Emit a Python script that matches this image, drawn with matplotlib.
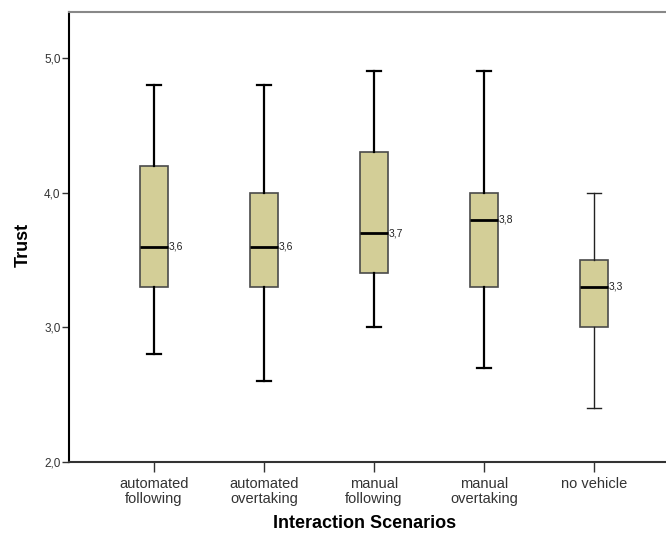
import matplotlib
matplotlib.use("Agg")
import matplotlib.pyplot as plt

categories = ["automated\nfollowing", "automated\novertaking", "manual\nfollowing",
              "manual\novertaking", "no vehicle"]
whisker_low = [2.8, 2.6, 3.0, 2.7, 2.4]
q1 = [3.3, 3.3, 3.4, 3.3, 3.0]
median = [3.6, 3.6, 3.7, 3.8, 3.3]
q3 = [4.2, 4.0, 4.3, 4.0, 3.5]
whisker_high = [4.8, 4.8, 4.9, 4.9, 4.0]
median_labels = ["3,6", "3,6", "3,7", "3,8", "3,3"]
yticks = [2.0, 3.0, 4.0, 5.0]
ytick_labels = ["2,0", "3,0", "4,0", "5,0"]

plt.rcParams['font.family'] = ['Liberation Sans', 'DejaVu Sans']

fig = plt.figure(figsize=(6.66, 5.42), dpi=100)
ax = fig.add_axes([69/666, 1 - 462/542, 1 - 69/666, (462 - 12)/542])

fill = "#d3ce97"
positions = list(range(len(categories)))
for i in positions:
    st = [dict(whislo=whisker_low[i], q1=q1[i], med=median[i], q3=q3[i],
               whishi=whisker_high[i], fliers=[])]
    wl = 1.0 if i == 4 else 1.6
    ax.bxp(st, positions=[i], widths=0.255, patch_artist=True, showfliers=False,
           boxprops=dict(facecolor=fill, edgecolor="#4a4a4a", linewidth=1.2),
           medianprops=dict(color="black", linewidth=2.0),
           whiskerprops=dict(color="black" if i < 4 else "#222222", linewidth=wl),
           capprops=dict(color="black" if i < 4 else "#222222", linewidth=wl),
           capwidths=0.127)
    ax.text(i + 0.135, median[i], median_labels[i], fontsize=7.5, color="#222222",
            va="center", ha="left")

ax.set_xlim((69 - 154) / 110, (666 - 154) / 110)
ax.set_ylim(2.0, 2.0 + 450 / 134.67)
ax.set_yticks(yticks)
ax.set_yticklabels(ytick_labels, fontsize=8.5, color="#333333")
ax.set_xticks(positions)
ax.set_xticklabels(categories, fontsize=10.5, color="#333333", linespacing=1.05)
ax.tick_params(axis="y", length=5, width=1, color="#333333", pad=1)
ax.tick_params(axis="x", length=7, width=1, color="#333333", pad=4)

ax.spines["left"].set_color("black")
ax.spines["left"].set_linewidth(1.5)
ax.spines["bottom"].set_color("#333333")
ax.spines["bottom"].set_linewidth(1.5)
ax.spines["top"].set_color("#888888")
ax.spines["top"].set_linewidth(1.5)
ax.spines["right"].set_visible(False)

fig.text(23/666, 1 - 245/542, "Trust", rotation=90, fontsize=13, fontweight="bold",
         ha="center", va="center")
fig.text(365/666, 1 - 523/542, "Interaction Scenarios", fontsize=13, fontweight="bold",
         ha="center", va="center")

fig.savefig("out.png", dpi=100)
